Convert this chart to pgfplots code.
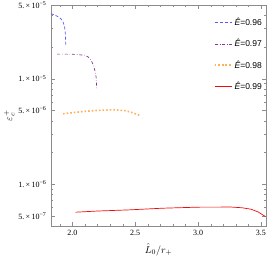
\documentclass[border=0pt]{standalone}
\usepackage{fontspec}
\setmainfont{Liberation Serif}
\newfontfamily\sansf{Liberation Sans}
\usepackage{pgfplots}
\pgfplotsset{compat=1.18}
\definecolor{cblue}{RGB}{90,90,245}
\definecolor{cpurple}{RGB}{140,50,150}
\definecolor{corange}{RGB}{255,175,90}
\definecolor{cred}{RGB}{240,10,10}
\begin{document}
\begin{tikzpicture}
\begin{axis}[
  scale only axis, width=215pt, height=221pt,
  ymode=log,
  xmin=1.83, xmax=3.54, ymin=4e-7, ymax=5e-5,
  axis line style={draw=black!45},
  major tick style={draw=black!45},
  minor tick style={draw=black!45},
  major tick length=4pt, minor tick length=2.2pt,
  tick align=inside,
  xtick={2,2.5,3,3.5}, xticklabels={2.0,2.5,3.0,3.5},
  minor xtick={1.9,2.1,2.2,2.3,2.4,2.6,2.7,2.8,2.9,3.1,3.2,3.3,3.4},
  ytick={5e-7,1e-6,5e-6,1e-5,5e-5},
  yticklabels={5.\,×\,10\textsuperscript{−7},1.\,×\,10\textsuperscript{−6},5.\,×\,10\textsuperscript{−6},1.\,×\,10\textsuperscript{−5},5.\,×\,10\textsuperscript{−5}},
  minor ytick={6e-7,7e-7,8e-7,9e-7,2e-6,3e-6,4e-6,6e-6,7e-6,8e-6,9e-6,2e-5,3e-5,4e-5},
  ticklabel style={font=\fontsize{8}{9}\selectfont},
  xticklabel style={yshift=-1pt},
  yticklabel style={xshift=-1pt},
  xlabel={$\hat{L}_0/r_+$}, ylabel={$\varepsilon_c^{+}$},
  xlabel style={font=\fontsize{10}{11}\selectfont, yshift=-1pt},
  ylabel style={font=\fontsize{10}{11}\selectfont, yshift=-3pt},
  legend style={at={(1,1)}, anchor=north east, xshift=-1pt, yshift=-10pt, draw=none, fill=none,
    font=\sansf\fontsize{8.5}{10}\selectfont, row sep=8.3pt, inner sep=1pt},
  legend cell align=left,
]
\addplot[cblue, densely dashed, line width=0.7pt] coordinates {
(1.829,4.13e-5) (1.86,4.02e-5) (1.89,3.85e-5) (1.913,3.66e-5) (1.928,3.4e-5) (1.938,3.1e-5) (1.944,2.7e-5) (1.946,2.35e-5) (1.947,2.05e-5)};
\addlegendentry{\textit{Ê}=0.96}
\addplot[cpurple, dashdotted, line width=0.7pt] coordinates {
(1.879,1.71e-5) (1.95,1.71e-5) (2.02,1.70e-5) (2.097,1.67e-5) (2.125,1.61e-5) (2.15,1.49e-5) (2.17,1.32e-5) (2.183,1.14e-5) (2.189,1.03e-5) (2.192,9.0e-6) (2.194,7.8e-6)};
\addlegendentry{\textit{Ê}=0.97}
\addplot[corange, dotted, line width=1.6pt] coordinates {
(1.926,4.65e-6) (2.0,4.76e-6) (2.1,4.9e-6) (2.2,5.0e-6) (2.333,5.07e-6) (2.42,4.97e-6) (2.48,4.75e-6) (2.538,4.47e-6)};
\addlegendentry{\textit{Ê}=0.98}
\addplot[cred, line width=0.7pt] coordinates {
(2.026,5.41e-7) (2.2,5.55e-7) (2.451,5.69e-7) (2.713,5.9e-7) (3.0,6.04e-7) (3.265,6.05e-7) (3.35,5.96e-7) (3.422,5.77e-7) (3.48,5.42e-7) (3.535,4.92e-7)};
\addlegendentry{\textit{Ê}=0.99}
\end{axis}
\pgfresetboundingbox
\path[use as bounding box] ([shift={(-51pt,-31pt)}]current axis.south west) rectangle ([shift={(8pt,5pt)}]current axis.north east);
\end{tikzpicture}
\end{document}
